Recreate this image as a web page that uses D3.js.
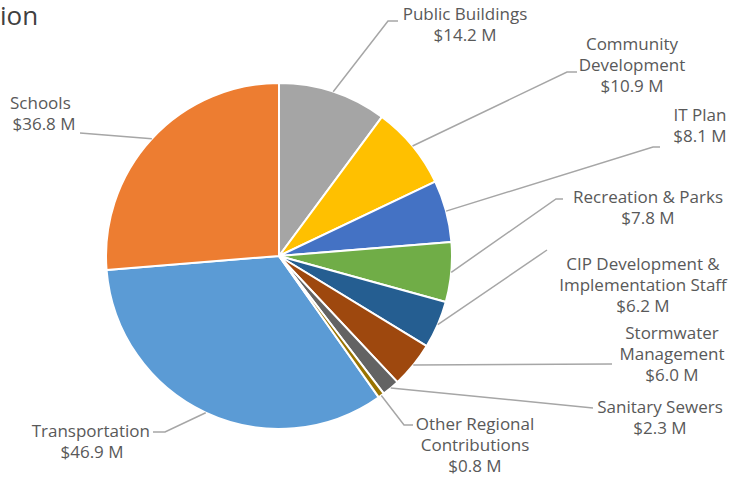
<!DOCTYPE html>
<html><head><meta charset="utf-8">
<script src="https://cdn.jsdelivr.net/npm/d3@7/dist/d3.min.js"></script>
<style>
html,body{margin:0;padding:0;background:#fff;}
svg{display:block;}
</style></head>
<body>
<svg id="chart" width="734" height="480"></svg>
<script>
// Data (Excel order; chart rotated so "Public Buildings" starts at 12 o'clock)
const categories = ["Transportation","Schools","Public Buildings","Community Development","IT Plan","Recreation & Parks","CIP Development & Implementation Staff","Stormwater Management","Sanitary Sewers","Other Regional Contributions"];
const values = [46.9, 36.8, 14.2, 10.9, 8.1, 7.8, 6.2, 6.0, 2.3, 0.8];
const labelLines = [
  ["Transportation"],["Schools"],["Public Buildings"],["Community","Development"],["IT Plan"],
  ["Recreation & Parks"],["CIP Development &","Implementation Staff"],["Stormwater","Management"],
  ["Sanitary Sewers"],["Other Regional","Contributions"]
];
const colors = ["#5B9BD5","#ED7D31","#A5A5A5","#FFC000","#4472C4","#70AD47","#255E91","#9E480E","#636363","#997300"];

// Layout for labels (text centre x, first-line y, leader elbow points)
const labelLayout = [
  {x:92,  y:432, elbow:[[165,432],[153,432]], anchorFirst:"end", firstX:150},
  {x:44,  y:104, elbow:[[80,133]], anchorFirst:"start", firstX:10},
  {x:465, y:15,  elbow:[[388,21],[398,21]]},
  {x:632, y:45,  elbow:[[567,72],[577,72]]},
  {x:700, y:116, elbow:[[653,147],[660,147]]},
  {x:648, y:198, elbow:[[556,199],[563,199]]},
  {x:643, y:265, elbow:[[547,250]]},
  {x:672, y:334, elbow:[[612,364]]},
  {x:660, y:408, elbow:[[593,408]]},
  {x:475, y:425, elbow:[[404,425],[413,425]]}
];

const svg = d3.select("#chart");
const cx = 279, cy = 256, R = 173;
const font = "'Open Sans', 'Liberation Sans', Arial, sans-serif";

svg.append("text").attr("x", 0).attr("y", 25).text("ion")
  .attr("font-family", font).attr("font-size", 26).attr("fill", "#404040");

const total = d3.sum(values);
const startOffset = -(values[0] + values[1]) / total * 2 * Math.PI;
const pie = d3.pie().sort(null).value(d => d)
  .startAngle(startOffset).endAngle(startOffset + 2 * Math.PI);
const arcs = pie(values);
const arc = d3.arc().innerRadius(0).outerRadius(R);

const g = svg.append("g").attr("transform", `translate(${cx},${cy})`);
g.selectAll("path").data(arcs).join("path")
  .attr("d", arc).attr("fill", (d,i) => colors[i])
  .attr("stroke", "#fff").attr("stroke-width", 2).attr("stroke-linejoin","round");

// Leader lines
arcs.forEach((a, i) => {
  const mid = (a.startAngle + a.endAngle) / 2;
  const sx = cx + R * Math.sin(mid), sy = cy - R * Math.cos(mid);
  const pts = [[sx, sy], ...labelLayout[i].elbow];
  svg.append("path").attr("d", d3.line()(pts))
    .attr("fill", "none").attr("stroke", "#A6A6A6").attr("stroke-width", 1.5);
});

// Labels
categories.forEach((c, i) => {
  const L = labelLayout[i];
  const lines = [...labelLines[i], "$" + values[i].toFixed(1) + " M"];
  const t = svg.append("text").attr("font-family", font).attr("font-size", 17)
    .attr("fill", "#595959").attr("dominant-baseline", "middle");
  lines.forEach((ln, j) => {
    const ts = t.append("tspan").attr("y", L.y + j * 21).text(ln);
    if (j === 0 && L.anchorFirst) {
      ts.attr("x", L.firstX).attr("text-anchor", L.anchorFirst);
    } else {
      ts.attr("x", L.x).attr("text-anchor", "middle");
    }
  });
});
</script>
</body></html>
